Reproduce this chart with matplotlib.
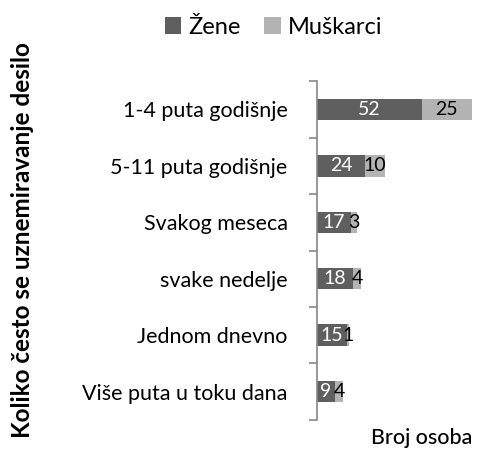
import matplotlib
matplotlib.use("Agg")
import matplotlib.pyplot as plt
import numpy as np

categories = ["1-4 puta godišnje", "5-11 puta godišnje", "Svakog meseca",
              "svake nedelje", "Jednom dnevno", "Više puta u toku dana"]
zene = [52, 24, 17, 18, 15, 9]
muskarci = [25, 10, 3, 4, 1, 4]
series_names = ["Žene", "Muškarci"]

plt.rcParams['font.family'] = ['Lato', 'DejaVu Sans']

dark = "#5f5f5f"
light = "#b3b3b3"
axis_col = "#888888"

fig = plt.figure(figsize=(4.78, 4.51), dpi=100)
ax = fig.add_axes([0.663, 0.069, 0.324, 0.751])

y = np.arange(len(categories))
h = 0.38
b1 = ax.barh(y, zene, h, color=dark)
b2 = ax.barh(y, muskarci, h, left=zene, color=light)

for i in range(len(categories)):
    ax.text(zene[i] / 2, y[i], str(zene[i]), ha="center", va="center",
            color="white", fontsize=14)
    ax.text(zene[i] + muskarci[i] / 2, y[i], str(muskarci[i]), ha="center",
            va="center", color="black", fontsize=14)

ax.set_xlim(0, zene[0] + muskarci[0])
ax.set_ylim(len(categories) - 0.5, -0.5)
ax.set_yticks(y)
ax.set_yticklabels(categories, fontsize=15.5)
ax.set_yticks(np.arange(len(categories) + 1) - 0.5, minor=True)
ax.tick_params(axis="y", which="major", length=0, pad=21)
ax.tick_params(axis="y", which="minor", length=6, color=axis_col, width=1.2)
ax.set_xticks([])
for s in ["top", "right", "bottom"]:
    ax.spines[s].set_visible(False)
ax.spines["left"].set_color(axis_col)
ax.spines["left"].set_linewidth(1.2)

fig.text(0.048, 0.467, "Koliko često se uznemiravanje desilo", rotation=90,
         ha="center", va="center", fontsize=17.5, fontweight="bold")
fig.text(0.988, 0.029, "Broj osoba", ha="right", va="center", fontsize=15.5,
         fontweight="medium")

fig.legend([b1, b2], series_names, loc="center", bbox_to_anchor=(0.572, 0.94),
           ncol=2, frameon=False, fontsize=17, handlelength=0.7,
           handleheight=0.7, handletextpad=0.3, columnspacing=1.0)

fig.savefig("out.png", dpi=100)
